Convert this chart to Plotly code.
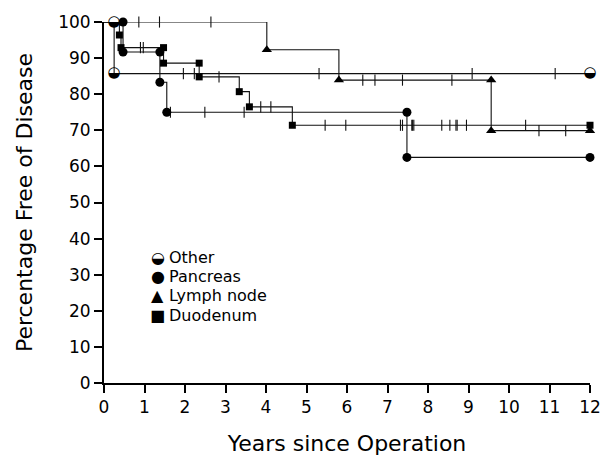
import numpy as np
import plotly.graph_objects as go

# ---- data ----
x_ticks = list(range(0, 13))
y_ticks = list(range(0, 101, 10))

other_times = [0, 0.25, 12]
other_surv = [100, 85.7, 85.7]
other_mk_t = [0.25, 0.25, 12]
other_mk_s = [100, 85.7, 85.7]
other_cens = [1.96, 2.23, 5.31, 9.09, 11.14]

panc_times = [0, 0.47, 1.38, 1.55, 7.48, 12]
panc_surv = [100, 91.7, 83.3, 75.0, 62.5, 62.5]
panc_mk_t = [0.47, 0.47, 1.38, 1.38, 1.55, 7.48, 7.48, 12]
panc_mk_s = [100, 91.7, 91.7, 83.3, 75.0, 75.0, 62.5, 62.5]
panc_cens = [1.64, 2.49, 3.46]

lymph_times = [0, 4.02, 5.8, 9.56, 12]
lymph_surv = [100, 92.3, 83.9, 69.9, 69.9]
lymph_mk_t = [4.02, 5.8, 9.56, 9.56, 12]
lymph_mk_s = [92.3, 83.9, 83.9, 69.9, 69.9]
lymph_cens = [0.86, 1.37, 2.64, 6.39, 6.69, 7.37, 8.59, 10.74, 11.4]

duod_times = [0, 0.38, 0.42, 1.47, 2.35, 3.34, 3.59, 4.65, 12]
duod_surv = [100, 96.4, 92.9, 88.6, 84.8, 80.7, 76.5, 71.4, 71.4]
duod_mk_t = [0.38, 0.42, 1.47, 1.47, 2.35, 2.35, 3.34, 3.59, 4.65, 12]
duod_mk_s = [96.4, 92.9, 92.9, 88.6, 88.6, 84.8, 80.7, 76.5, 71.4, 71.4]
duod_cens = [0.9, 0.97, 2.84, 3.87, 4.12, 5.46, 5.97, 7.32, 7.37, 7.6, 7.62,
             7.65, 8.34, 8.54, 8.69, 8.72, 8.95, 10.41]

legend_names = ["Other", "Pancreas", "Lymph node", "Duodenum"]
legend_glyphs = ["\u25D2", "\u25CF", "\u25B2", "\u25A0"]

FONT = "DejaVu Sans"
LINE_C = "#111111"


def step_value(times, surv, t):
    idx = np.searchsorted(np.asarray(times), np.asarray(t), side="right") - 1
    return list(np.asarray(surv)[idx])


fig = go.Figure()

groups = [
    (other_times, other_surv, other_cens),
    (panc_times, panc_surv, panc_cens),
    (lymph_times, lymph_surv, lymph_cens),
    (duod_times, duod_surv, duod_cens),
]

for times, surv, cens in groups:
    fig.add_trace(go.Scatter(
        x=times, y=surv, mode="lines", line=dict(color=LINE_C, width=1.1, shape="hv"),
        showlegend=False, hoverinfo="skip", cliponaxis=False))
    fig.add_trace(go.Scatter(
        x=cens, y=step_value(times, surv, cens), mode="markers",
        marker=dict(symbol="line-ns", size=8, line=dict(color=LINE_C, width=1.1)),
        showlegend=False, hoverinfo="skip", cliponaxis=False))

fig.add_trace(go.Scatter(
    x=panc_mk_t, y=panc_mk_s, mode="markers",
    marker=dict(symbol="circle", size=9, color="black"),
    showlegend=False, cliponaxis=False))
fig.add_trace(go.Scatter(
    x=lymph_mk_t, y=lymph_mk_s, mode="markers",
    marker=dict(symbol="triangle-up", size=9, color="black"),
    showlegend=False, cliponaxis=False))
fig.add_trace(go.Scatter(
    x=duod_mk_t, y=duod_mk_s, mode="markers",
    marker=dict(symbol="square", size=7, color="black"),
    showlegend=False, cliponaxis=False))
fig.add_trace(go.Scatter(
    x=other_mk_t, y=other_mk_s, mode="text", text=[legend_glyphs[0]] * len(other_mk_t),
    textposition="middle center", textfont=dict(family=FONT, size=15, color="black"),
    showlegend=False, cliponaxis=False))

# legend built from annotations (half-filled circle glyph)
leg_y = [0.349, 0.295, 0.241, 0.187]
for name, glyph, yy in zip(legend_names, legend_glyphs, leg_y):
    fig.add_annotation(x=0.111, y=yy, xref="paper", yref="paper", text=glyph,
                       showarrow=False, xanchor="center", yanchor="middle",
                       font=dict(family=FONT, size=16, color="black"))
    fig.add_annotation(x=0.1296, y=yy, xref="paper", yref="paper", text=name,
                       showarrow=False, xanchor="left", yanchor="middle",
                       font=dict(family=FONT, size=16, color="black"))

fig.update_layout(
    width=602, height=456,
    margin=dict(l=104, r=12, t=22, b=73),
    paper_bgcolor="white", plot_bgcolor="white",
    font=dict(family=FONT, color="black"),
    showlegend=False,
)
fig.update_xaxes(
    range=[0, 12], tickvals=x_ticks, ticktext=[str(v) for v in x_ticks],
    automargin=False,
    showgrid=False, zeroline=False, showline=True, linecolor="black", linewidth=2,
    ticks="outside", ticklen=8, tickwidth=2, tickcolor="black",
    tickfont=dict(family=FONT, size=17, color="black"),
    title=dict(text="Years since Operation", font=dict(family=FONT, size=22, color="black"),
               standoff=23),
)
fig.update_yaxes(
    range=[0, 100], tickvals=y_ticks, ticktext=[str(v) for v in y_ticks],
    automargin=False,
    showgrid=False, zeroline=False, showline=True, linecolor="black", linewidth=2,
    ticks="outside", ticklen=8, tickwidth=2, tickcolor="black",
    tickfont=dict(family=FONT, size=17, color="black"),
    title=dict(text="Percentage Free of Disease", font=dict(family=FONT, size=22, color="black"),
               standoff=19),
)

fig.write_html("out.html")
